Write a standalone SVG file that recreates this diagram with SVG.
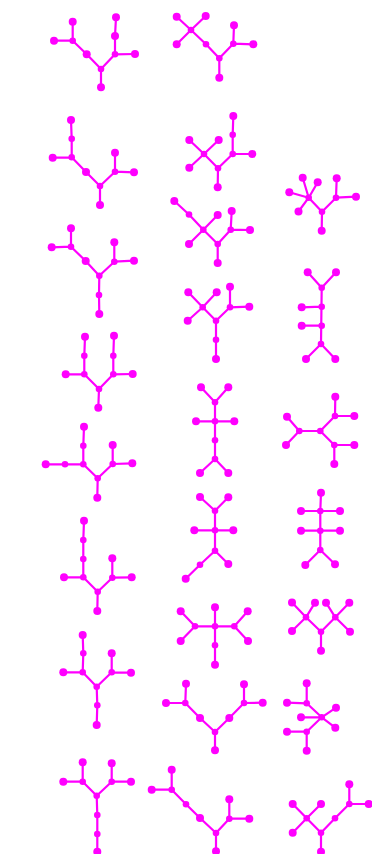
<svg xmlns="http://www.w3.org/2000/svg" width="372" height="854" viewBox="0 0 372 854">
<style>
.e{fill:none;stroke:#ff00ff;stroke-width:2.2;stroke-linecap:round;stroke-linejoin:round}
circle{fill:#ff00ff}
.l{r:4px}
.i{r:3.3px}
</style>
<rect width="372" height="854" fill="#ffffff"/>
<g id="connectors" class="e">
<path id="ea" d="M72.7,21.7V40.7 M54,40.7H72.7 L86.7,54.3 L101,69 V87.3 M101,69 L115,54.3 L115,36 L116,17.3 M115,54.3 L135,54"/>
<path id="eb" d="M71,120 L71.7,138.7 L71.7,157.3 M52.7,157.7 L71.7,157.3 L86,172 L100,186 L100,205 M100,186 L115,171.7 L115,152.7 M115,171.7 L134,172.3"/>
<path id="ec" d="M71,228.3 L71,246.7 M51.7,247.3 L71,246.7 L85.7,261 L99.3,275.7 L99,295 L99.3,314 M99.3,275.7 L114.3,261.7 L114.3,242.3 M114.3,261.7 L134,260.7"/>
<path id="ed" d="M85,336.7 L84.3,355.7 L84.3,374.3 M65.7,374.3 L84.3,374.3 L99,389 L98.3,407.7 M99,389 L113.3,374.3 L113.3,355.7 L114,335.7 M113.3,374.3 L132.7,374"/>
<path id="ee" d="M84,426.7 L83.3,445.7 L83.3,464.3 M45.7,464.3 L83.3,464.3 L97.7,478.3 L97.3,497.7 M97.7,478.3 L112.7,464 L112.7,445 M112.7,464 L132.3,463.3"/>
<path id="ef" d="M84,520.7 L83.3,540 L83.3,559 L83.3,577.3 M64,577.3 L83.3,577.3 L97.7,591.7 L97.3,611 M97.7,591.7 L112.3,577.7 L112.3,558.3 M112.3,577.7 L131.7,577.3"/>
<path id="eg" d="M82.7,635 L83.3,653.3 L82.7,672.3 M63.3,672.3 L82.7,672.3 L96.7,686.7 L97.3,705.3 L96.7,725 M96.7,686.7 L111.7,672.3 L111.7,653.3 M111.7,672.3 L131,672.7"/>
<path id="eh" d="M82.7,762.3 L82.7,781.7 M63.3,781.7 L82.7,781.7 L96.7,795.7 L97.3,815 L97.3,834 L97.3,851.7 M96.7,795.7 L111.7,781.7 L111.7,763.3 M111.7,781.7 L131,781.7"/>
<path id="ei" d="M176.7,16.7 L191,30 L205.7,16 M191,30 L176.7,44.3 M191,30 L206,44.3 L219.3,58.3 L219.3,77.7 M219.3,58.3 L233.3,43.7 L234,25.3 M233.3,43.7 L253.3,44.3"/>
<path id="ej" d="M189.3,140 L204,154 L218.7,140 M204,154 L189.3,167.7 M204,154 L218,168.3 L217.7,187.3 M218,168.3 L232.7,154 L252.3,154 M232.7,154 L232.7,134.7 L233.3,116"/>
<path id="ek" d="M174.3,201 L189,214.5 L203.3,229.7 L217.7,215 M203.3,229.7 L189,244 M203.3,229.7 L217.7,244 L217.7,263 M217.7,244 L230.7,229.7 L231.7,211 M230.7,229.7 L250,230"/>
<path id="el" d="M188.3,292.3 L202.7,307.3 L216.7,292.3 M202.7,307.3 L187.7,320.7 M202.7,307.3 L216,320.7 L216,339.7 L216,359 M216,320.7 L230,307.3 L230,286.7 M230,307.3 L249.3,306.7"/>
<path id="em" d="M201,387.3 L215,402.3 L228.3,387.3 M215,402.3 L215,459 M196,421.3 L234.3,421.3 M200,473 L215,459 L228.3,473"/>
<path id="en" d="M200,497 L215,510.7 L228.3,497.3 M215,510.7 L215,550.7 M194.3,530.3 L233.3,530.3 M185.7,578.7 L200,564.7 L215,550.7 L228.3,564"/>
<path id="eo" d="M180.7,611.3 L195,626.3 L180.7,641 M195,626.3 L234.3,626.3 M215,607.3 L215,664.7 M247.7,611.3 L234.3,626.3 L248,641"/>
<path id="ep" d="M186,683.7 L185.3,703 M166,703 L185.3,703 L200,718 L215,732 L215,750.3 M215,732 L229.3,718 L244,703 L244,684.3 M244,703 L262.7,702.7"/>
<path id="eq" d="M171.7,769.7 L171.7,789.7 M151.7,789.7 L171.7,789.7 L186,804.3 L200,818 L216,833 L216,851.3 M216,833 L229.3,818.7 L229.3,799.3 M229.3,818.7 L249.3,818.7"/>
<path id="er" d="M302.7,177.7 L308.7,197.7 L317.7,182.3 M289.3,192.3 L308.7,197.7 L298.5,211.5 M308.7,197.7 L322,211.7 L321.7,230.7 M322,211.7 L336,197.7 L336.7,178.3 M336,197.7 L356,196.7"/>
<path id="es" d="M307.7,272.3 L321.7,287.7 L336,272.3 M321.7,287.7 L321,344 M301.7,307.3 L321.7,306.7 M301.7,325.7 L321.7,325.7 M306,359 L321,344 L335.3,359"/>
<path id="et" d="M287,416.7 L299.3,431 L286,445 M299.3,431 L320.3,431 L335,416 L335.3,396.7 M335,416 L354.3,416 M320.3,431 L334.3,445 L354.3,445 M334.3,445 L334.3,464"/>
<path id="eu" d="M321,492.7 L320.3,511 L320.3,550 M301,511 L340,511 M301,530.7 L340,530.7 M305.3,565 L320.3,550 L335,564.3"/>
<path id="ev" d="M292,602.5 L306,617.3 L315,602.7 M306,617.3 L292,631 M306,617.3 L321,631.7 L335.3,617.3 L326,602.7 M335.3,617.3 L349.3,602.7 M335.3,617.3 L350,631.7 M321,631.7 L321,650.7"/>
<path id="ew" d="M306.7,683.3 L306.7,703.3 M287,702.7 L306.7,703.3 L321.7,717.3 L336,707.7 M301,717.3 L321.7,717.3 L335.3,727.7 M321.7,717.3 L306.7,731.7 L306.7,750.7 M287,731.7 L306.7,731.7"/>
<path id="ex" d="M292.7,804 L306.7,818.3 L321,804 M306.7,818.3 L292.7,832.7 M306.7,818.3 L321,832.7 L321,851.7 M321,832.7 L335,818.3 L349.3,804 L349.3,784.3 M349.3,804 L368.7,804"/>
</g>
<g id="tree-a"><circle class="l" r="4" cx="72.7" cy="21.7"/><circle class="l" r="4" cx="54" cy="40.7"/><circle class="l" r="4" cx="101" cy="87.3"/><circle class="l" r="4" cx="116" cy="17.3"/><circle class="l" r="4" cx="135" cy="54"/><circle class="i" r="3.3" cx="72.7" cy="40.7"/><circle class="l" r="4" cx="86.7" cy="54.3"/><circle class="i" r="3.3" cx="101" cy="69"/><circle class="i" r="3.3" cx="115" cy="54.3"/><circle class="l" r="4" cx="115" cy="36"/></g>
<g id="tree-b"><circle class="l" r="4" cx="71" cy="120"/><circle class="i" r="3.3" cx="71.7" cy="138.7"/><circle class="i" r="3.3" cx="71.7" cy="157.3"/><circle class="l" r="4" cx="52.7" cy="157.7"/><circle class="l" r="4" cx="86" cy="172"/><circle class="i" r="3.3" cx="100" cy="186"/><circle class="l" r="4" cx="100" cy="205"/><circle class="i" r="3.3" cx="115" cy="171.7"/><circle class="l" r="4" cx="115" cy="152.7"/><circle class="l" r="4" cx="134" cy="172.3"/></g>
<g id="tree-c"><circle class="l" r="4" cx="71" cy="228.3"/><circle class="l" r="4" cx="51.7" cy="247.3"/><circle class="i" r="3.3" cx="71" cy="246.7"/><circle class="l" r="4" cx="85.7" cy="261"/><circle class="i" r="3.3" cx="99.3" cy="275.7"/><circle class="i" r="3.3" cx="99" cy="295"/><circle class="l" r="4" cx="99.3" cy="314"/><circle class="i" r="3.3" cx="114.3" cy="261.7"/><circle class="l" r="4" cx="114.3" cy="242.3"/><circle class="l" r="4" cx="134" cy="260.7"/></g>
<g id="tree-d"><circle class="l" r="4" cx="85" cy="336.7"/><circle class="i" r="3.3" cx="84.3" cy="355.7"/><circle class="i" r="3.3" cx="84.3" cy="374.3"/><circle class="l" r="4" cx="65.7" cy="374.3"/><circle class="i" r="3.3" cx="99" cy="389"/><circle class="l" r="4" cx="98.3" cy="407.7"/><circle class="i" r="3.3" cx="113.3" cy="374.3"/><circle class="i" r="3.3" cx="113.3" cy="355.7"/><circle class="l" r="4" cx="114" cy="335.7"/><circle class="l" r="4" cx="132.7" cy="374"/></g>
<g id="tree-e"><circle class="l" r="4" cx="84" cy="426.7"/><circle class="i" r="3.3" cx="83.3" cy="445.7"/><circle class="i" r="3.3" cx="83.3" cy="464.3"/><circle class="i" r="3.3" cx="65" cy="464.3"/><circle class="l" r="4" cx="45.7" cy="464.3"/><circle class="i" r="3.3" cx="97.7" cy="478.3"/><circle class="l" r="4" cx="97.3" cy="497.7"/><circle class="l" r="4" cx="112.7" cy="445"/><circle class="i" r="3.3" cx="112.7" cy="464"/><circle class="l" r="4" cx="132.3" cy="463.3"/></g>
<g id="tree-f"><circle class="l" r="4" cx="84" cy="520.7"/><circle class="i" r="3.3" cx="83.3" cy="540"/><circle class="i" r="3.3" cx="83.3" cy="559"/><circle class="i" r="3.3" cx="83.3" cy="577.3"/><circle class="l" r="4" cx="64" cy="577.3"/><circle class="i" r="3.3" cx="97.7" cy="591.7"/><circle class="l" r="4" cx="97.3" cy="611"/><circle class="l" r="4" cx="112.3" cy="558.3"/><circle class="i" r="3.3" cx="112.3" cy="577.7"/><circle class="l" r="4" cx="131.7" cy="577.3"/></g>
<g id="tree-g"><circle class="l" r="4" cx="82.7" cy="635"/><circle class="i" r="3.3" cx="83.3" cy="653.3"/><circle class="i" r="3.3" cx="82.7" cy="672.3"/><circle class="l" r="4" cx="63.3" cy="672.3"/><circle class="i" r="3.3" cx="96.7" cy="686.7"/><circle class="i" r="3.3" cx="97.3" cy="705.3"/><circle class="l" r="4" cx="96.7" cy="725"/><circle class="l" r="4" cx="111.7" cy="653.3"/><circle class="i" r="3.3" cx="111.7" cy="672.3"/><circle class="l" r="4" cx="131" cy="672.7"/></g>
<g id="tree-h"><circle class="l" r="4" cx="82.7" cy="762.3"/><circle class="i" r="3.3" cx="82.7" cy="781.7"/><circle class="l" r="4" cx="63.3" cy="781.7"/><circle class="i" r="3.3" cx="96.7" cy="795.7"/><circle class="i" r="3.3" cx="97.3" cy="815"/><circle class="i" r="3.3" cx="97.3" cy="834"/><circle class="l" r="4" cx="97.3" cy="851.7"/><circle class="l" r="4" cx="111.7" cy="763.3"/><circle class="i" r="3.3" cx="111.7" cy="781.7"/><circle class="l" r="4" cx="131" cy="781.7"/></g>
<g id="tree-i"><circle class="l" r="4" cx="176.7" cy="16.7"/><circle class="l" r="4" cx="205.7" cy="16"/><circle class="i" r="3.3" cx="191" cy="30"/><circle class="l" r="4" cx="176.7" cy="44.3"/><circle class="i" r="3.3" cx="206" cy="44.3"/><circle class="i" r="3.3" cx="219.3" cy="58.3"/><circle class="l" r="4" cx="219.3" cy="77.7"/><circle class="i" r="3.3" cx="233.3" cy="43.7"/><circle class="l" r="4" cx="234" cy="25.3"/><circle class="l" r="4" cx="253.3" cy="44.3"/></g>
<g id="tree-j"><circle class="l" r="4" cx="189.3" cy="140"/><circle class="l" r="4" cx="218.7" cy="140"/><circle class="i" r="3.3" cx="204" cy="154"/><circle class="l" r="4" cx="189.3" cy="167.7"/><circle class="i" r="3.3" cx="218" cy="168.3"/><circle class="l" r="4" cx="217.7" cy="187.3"/><circle class="i" r="3.3" cx="232.7" cy="154"/><circle class="i" r="3.3" cx="232.7" cy="134.7"/><circle class="l" r="4" cx="233.3" cy="116"/><circle class="l" r="4" cx="252.3" cy="154"/></g>
<g id="tree-k"><circle class="l" r="4" cx="174.3" cy="201"/><circle class="i" r="3.3" cx="189" cy="214.5"/><circle class="l" r="4" cx="217.7" cy="215"/><circle class="i" r="3.3" cx="203.3" cy="229.7"/><circle class="l" r="4" cx="189" cy="244"/><circle class="i" r="3.3" cx="217.7" cy="244"/><circle class="l" r="4" cx="217.7" cy="263"/><circle class="i" r="3.3" cx="230.7" cy="229.7"/><circle class="l" r="4" cx="231.7" cy="211"/><circle class="l" r="4" cx="250" cy="230"/></g>
<g id="tree-l"><circle class="l" r="4" cx="188.3" cy="292.3"/><circle class="l" r="4" cx="216.7" cy="292.3"/><circle class="i" r="3.3" cx="202.7" cy="307.3"/><circle class="l" r="4" cx="187.7" cy="320.7"/><circle class="i" r="3.3" cx="216" cy="320.7"/><circle class="i" r="3.3" cx="216" cy="339.7"/><circle class="l" r="4" cx="216" cy="359"/><circle class="i" r="3.3" cx="230" cy="307.3"/><circle class="l" r="4" cx="230" cy="286.7"/><circle class="l" r="4" cx="249.3" cy="306.7"/></g>
<g id="tree-m"><circle class="l" r="4" cx="201" cy="387.3"/><circle class="l" r="4" cx="228.3" cy="387.3"/><circle class="i" r="3.3" cx="215" cy="402.3"/><circle class="l" r="4" cx="196" cy="421.3"/><circle class="i" r="3.3" cx="215" cy="421.3"/><circle class="l" r="4" cx="234.3" cy="421.3"/><circle class="i" r="3.3" cx="215" cy="440.3"/><circle class="i" r="3.3" cx="215" cy="459"/><circle class="l" r="4" cx="200" cy="473"/><circle class="l" r="4" cx="228.3" cy="473"/></g>
<g id="tree-n"><circle class="l" r="4" cx="200" cy="497"/><circle class="l" r="4" cx="228.3" cy="497.3"/><circle class="i" r="3.3" cx="215" cy="510.7"/><circle class="l" r="4" cx="194.3" cy="530.3"/><circle class="i" r="3.3" cx="215" cy="530.3"/><circle class="l" r="4" cx="233.3" cy="530.3"/><circle class="i" r="3.3" cx="215" cy="550.7"/><circle class="i" r="3.3" cx="200" cy="564.7"/><circle class="l" r="4" cx="228.3" cy="564"/><circle class="l" r="4" cx="185.7" cy="578.7"/></g>
<g id="tree-o"><circle class="l" r="4" cx="180.7" cy="611.3"/><circle class="l" r="4" cx="215" cy="607.3"/><circle class="l" r="4" cx="247.7" cy="611.3"/><circle class="i" r="3.3" cx="195" cy="626.3"/><circle class="i" r="3.3" cx="215" cy="626.3"/><circle class="i" r="3.3" cx="234.3" cy="626.3"/><circle class="l" r="4" cx="180.7" cy="641"/><circle class="l" r="4" cx="248" cy="641"/><circle class="i" r="3.3" cx="215" cy="645.3"/><circle class="l" r="4" cx="215" cy="664.7"/></g>
<g id="tree-p"><circle class="l" r="4" cx="186" cy="683.7"/><circle class="l" r="4" cx="166" cy="703"/><circle class="i" r="3.3" cx="185.3" cy="703"/><circle class="l" r="4" cx="200" cy="718"/><circle class="i" r="3.3" cx="215" cy="732"/><circle class="l" r="4" cx="215" cy="750.3"/><circle class="l" r="4" cx="229.3" cy="718"/><circle class="i" r="3.3" cx="244" cy="703"/><circle class="l" r="4" cx="244" cy="684.3"/><circle class="l" r="4" cx="262.7" cy="702.7"/></g>
<g id="tree-q"><circle class="l" r="4" cx="171.7" cy="769.7"/><circle class="l" r="4" cx="151.7" cy="789.7"/><circle class="i" r="3.3" cx="171.7" cy="789.7"/><circle class="i" r="3.3" cx="186" cy="804.3"/><circle class="l" r="4" cx="200" cy="818"/><circle class="i" r="3.3" cx="216" cy="833"/><circle class="l" r="4" cx="216" cy="851.3"/><circle class="i" r="3.3" cx="229.3" cy="818.7"/><circle class="l" r="4" cx="229.3" cy="799.3"/><circle class="l" r="4" cx="249.3" cy="818.7"/></g>
<g id="tree-r"><circle class="l" r="4" cx="302.7" cy="177.7"/><circle class="l" r="4" cx="317.7" cy="182.3"/><circle class="l" r="4" cx="289.3" cy="192.3"/><circle class="i" r="3.3" cx="308.7" cy="197.7"/><circle class="l" r="4" cx="298.5" cy="211.5"/><circle class="i" r="3.3" cx="322" cy="211.7"/><circle class="l" r="4" cx="321.7" cy="230.7"/><circle class="i" r="3.3" cx="336" cy="197.7"/><circle class="l" r="4" cx="336.7" cy="178.3"/><circle class="l" r="4" cx="356" cy="196.7"/></g>
<g id="tree-s"><circle class="l" r="4" cx="307.7" cy="272.3"/><circle class="l" r="4" cx="336" cy="272.3"/><circle class="i" r="3.3" cx="321.7" cy="287.7"/><circle class="l" r="4" cx="301.7" cy="307.3"/><circle class="i" r="3.3" cx="321.7" cy="306.7"/><circle class="l" r="4" cx="301.7" cy="325.7"/><circle class="i" r="3.3" cx="321.7" cy="325.7"/><circle class="i" r="3.3" cx="321" cy="344"/><circle class="l" r="4" cx="306" cy="359"/><circle class="l" r="4" cx="335.3" cy="359"/></g>
<g id="tree-t"><circle class="l" r="4" cx="287" cy="416.7"/><circle class="i" r="3.3" cx="299.3" cy="431"/><circle class="l" r="4" cx="286" cy="445"/><circle class="i" r="3.3" cx="320.3" cy="431"/><circle class="i" r="3.3" cx="335" cy="416"/><circle class="l" r="4" cx="335.3" cy="396.7"/><circle class="l" r="4" cx="354.3" cy="416"/><circle class="i" r="3.3" cx="334.3" cy="445"/><circle class="l" r="4" cx="354.3" cy="445"/><circle class="l" r="4" cx="334.3" cy="464"/></g>
<g id="tree-u"><circle class="l" r="4" cx="321" cy="492.7"/><circle class="l" r="4" cx="301" cy="511"/><circle class="i" r="3.3" cx="320.3" cy="511"/><circle class="l" r="4" cx="340" cy="511"/><circle class="l" r="4" cx="301" cy="530.7"/><circle class="i" r="3.3" cx="320.3" cy="530.7"/><circle class="l" r="4" cx="340" cy="530.7"/><circle class="i" r="3.3" cx="320.3" cy="550"/><circle class="l" r="4" cx="305.3" cy="565"/><circle class="l" r="4" cx="335" cy="564.3"/></g>
<g id="tree-v"><circle class="l" r="4" cx="292" cy="602.5"/><circle class="l" r="4" cx="315" cy="602.7"/><circle class="i" r="3.3" cx="306" cy="617.3"/><circle class="l" r="4" cx="292" cy="631"/><circle class="i" r="3.3" cx="321" cy="631.7"/><circle class="l" r="4" cx="326" cy="602.7"/><circle class="l" r="4" cx="349.3" cy="602.7"/><circle class="i" r="3.3" cx="335.3" cy="617.3"/><circle class="l" r="4" cx="350" cy="631.7"/><circle class="l" r="4" cx="321" cy="650.7"/></g>
<g id="tree-w"><circle class="l" r="4" cx="306.7" cy="683.3"/><circle class="l" r="4" cx="287" cy="702.7"/><circle class="i" r="3.3" cx="306.7" cy="703.3"/><circle class="l" r="4" cx="336" cy="707.7"/><circle class="l" r="4" cx="301" cy="717.3"/><circle class="i" r="3.3" cx="321.7" cy="717.3"/><circle class="l" r="4" cx="335.3" cy="727.7"/><circle class="l" r="4" cx="287" cy="731.7"/><circle class="i" r="3.3" cx="306.7" cy="731.7"/><circle class="l" r="4" cx="306.7" cy="750.7"/></g>
<g id="tree-x"><circle class="l" r="4" cx="292.7" cy="804"/><circle class="l" r="4" cx="321" cy="804"/><circle class="i" r="3.3" cx="306.7" cy="818.3"/><circle class="l" r="4" cx="292.7" cy="832.7"/><circle class="i" r="3.3" cx="321" cy="832.7"/><circle class="l" r="4" cx="321" cy="851.7"/><circle class="i" r="3.3" cx="335" cy="818.3"/><circle class="i" r="3.3" cx="349.3" cy="804"/><circle class="l" r="4" cx="349.3" cy="784.3"/><circle class="l" r="4" cx="368.7" cy="804"/></g>
</svg>
